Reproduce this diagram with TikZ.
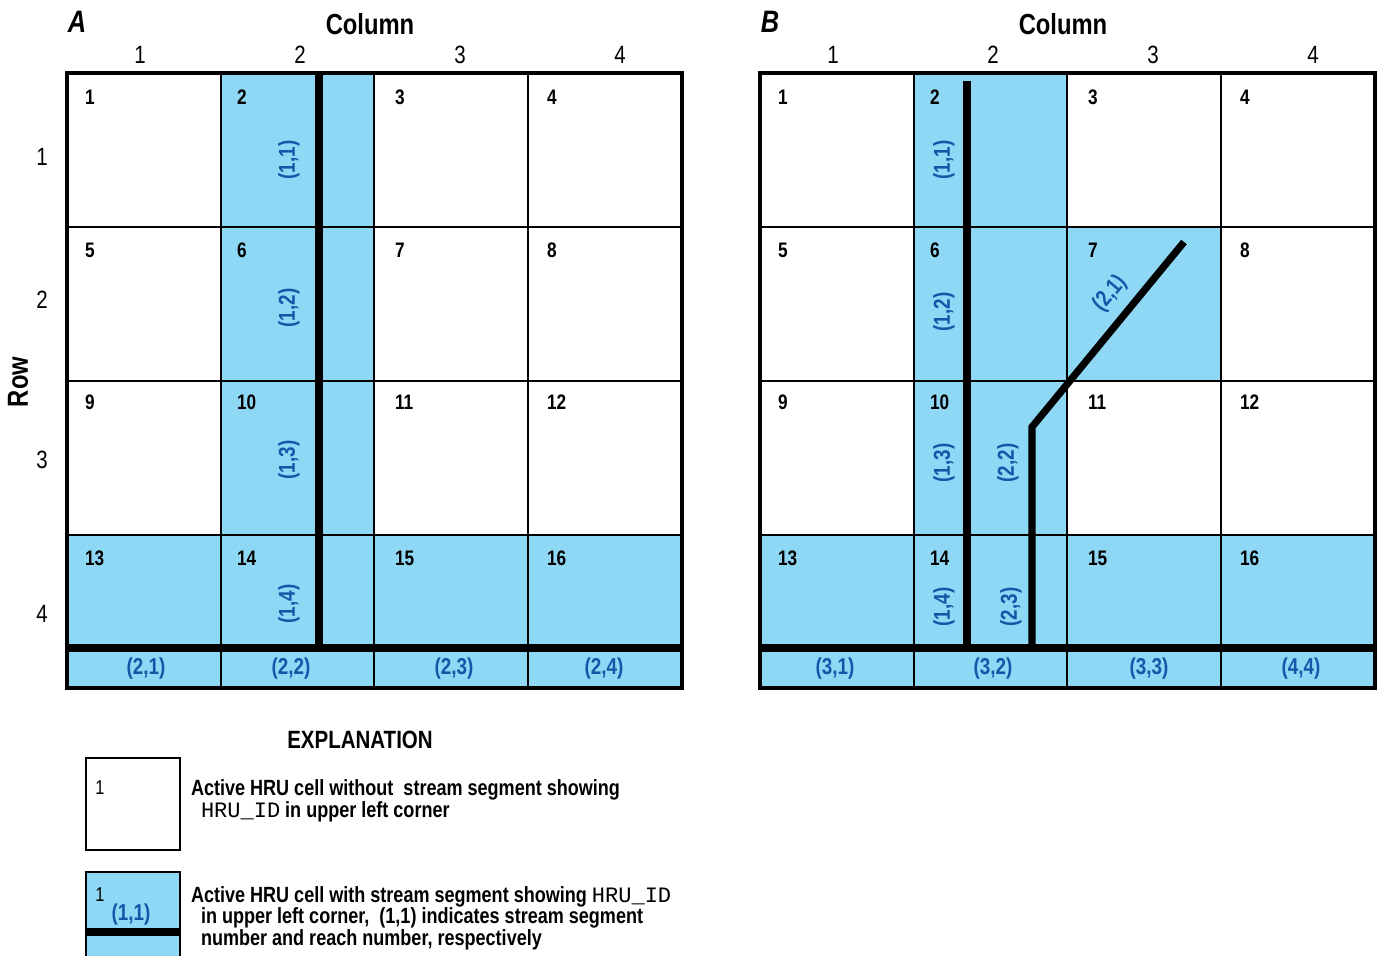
\documentclass[tikz,border=0pt]{standalone}
\usepackage{fontspec}
\setmainfont{Liberation Sans}[FakeStretch=0.82]
\setmonofont{Liberation Mono}
\usetikzlibrary{positioning}
\definecolor{cellblue}{RGB}{142,216,246}
\definecolor{reachblue}{RGB}{18,88,168}

\begin{document}
\begin{tikzpicture}[x=0.5pt, y=-0.5pt,
    every node/.style={inner sep=0pt, outer sep=0pt},
    thinline/.style={line width=1pt},
    outline/.style={line width=2.2pt},
    streamline/.style={line width=3.6pt},
    cellnum/.style={anchor=west, font=\fontsize{10.5}{12}\selectfont\bfseries},
    colnum/.style={font=\fontsize{12.5}{14}\selectfont},
    reach/.style={text=reachblue, font=\fontsize{11.5}{12}\selectfont\bfseries},
    headtxt/.style={font=\fontsize{14.5}{16}\selectfont\bfseries},
    legtxt/.style={anchor=base west, align=left, font=\fontsize{11}{10.75}\selectfont\bfseries},
    legnum/.style={font=\fontsize{10}{12}\selectfont}]
  \useasboundingbox (0,0) rectangle (1382,956);

  % cells with stream segments
  \fill[cellblue] (221,73) rectangle (374,688);
  \fill[cellblue] (67,535) rectangle (682,688);
  \fill[cellblue] (914,73) rectangle (1067,688);
  \fill[cellblue] (1067,227) rectangle (1221,381);
  \fill[cellblue] (760,535) rectangle (1375,688);

  % the two grids
  \foreach \p/\ox in {a/0, b/693} {
    \begin{scope}[shift={(\ox,0)}]
      \foreach \x in {221,374,528} \draw[thinline] (\x,73) -- (\x,688);
      \foreach \y in {227,381,535} \draw[thinline] (67,\y) -- (682,\y);
      \draw[outline] (67,73) rectangle (682,688);
      \draw[streamline] (67,648) -- (682,648);
      \foreach \c/\dx in {0/85, 1/237, 2/395, 3/547}
        \foreach \r/\y in {0/97, 1/250, 2/402, 3/558} {
          \pgfmathtruncatemacro\n{4*\r+\c+1}
          \node[cellnum] (\p-cell\n) at (\dx,\y) {\n};
        }
      \foreach \c in {1,...,4}
        \node[colnum] (\p-col\c) at ({140+160*(\c-1)},55) {\c};
      \node[headtxt] (\p-column) at (370,24) {Column};
    \end{scope}
  }
  \node[headtxt, font=\fontsize{15.5}{16}\selectfont\bfseries\itshape] (a-title) at (77,22) {A};
  \node[headtxt, font=\fontsize{15.5}{16}\selectfont\bfseries\itshape] (b-title) at (770,22) {B};

  % row numbers
  \foreach \r/\y in {1/157, 2/300, 3/460, 4/614}
    \node[colnum] (rownum\r) at (42,\y) {\r};
  \node[headtxt, rotate=90] (rowtitle) at (18,382) {Row};

  % streams, panel A
  \draw[streamline] (319,73) -- (319,648);
  \foreach \r/\y in {1/160, 2/308, 3/460, 4/604}
    \node[reach, rotate=90] (a-seg1\r) at (289,\y) {(1,\r)};
  \foreach \c/\x in {1/146, 2/291, 3/454, 4/604}
    \node[reach] (a-seg2\c) at (\x,669) {(2,\c)};

  % streams, panel B
  \draw[streamline] (967,81) -- (967,648);
  \draw[streamline] (1184,242) -- (1032,427) -- (1032,648);
  \foreach \r/\y in {1/160, 2/312, 3/463, 4/607}
    \node[reach, rotate=90] (b-seg1\r) at (944,\y) {(1,\r)};
  \node[reach, rotate=50] (b-seg21) at (1110,294) {(2,1)};
  \node[reach, rotate=90] (b-seg22) at (1008,463) {(2,2)};
  \node[reach, rotate=90] (b-seg23) at (1011,607) {(2,3)};
  \node[reach] (b-seg31) at (835,669) {(3,1)};
  \node[reach] (b-seg32) at (993,669) {(3,2)};
  \node[reach] (b-seg33) at (1149,669) {(3,3)};
  \node[reach] (b-seg44) at (1301,669) {(4,4)};

  % explanation
  \node[headtxt, font=\fontsize{12.5}{14}\selectfont\bfseries] (expl) at (360,740) {EXPLANATION};
  \draw[outline, line width=1.3pt] (86,758) rectangle (180,850);
  \node[legnum] (leg1-id) at (100,788) {1};
  \node[legtxt] (leg1-txt) at (191,817) {Active HRU cell without\ \ stream segment showing\\
    \hspace*{5pt}{\ttfamily\mdseries HRU\_ID} in upper left corner};

  \fill[cellblue] (86,872) rectangle (180,956);
  \draw[outline, line width=1.3pt] (86,956) -- (86,872) -- (180,872) -- (180,956);
  \draw[streamline] (86,932) -- (180,932);
  \node[legnum] (leg2-id) at (100,895) {1};
  \node[reach] (leg2-seg) at (131,915) {(1,1)};
  \node[legtxt] (leg2-txt) at (191,945) {Active HRU cell with stream segment showing {\ttfamily\mdseries HRU\_ID}\\
    \hspace*{5pt}in upper left corner,\ \ (1,1) indicates stream segment\\
    \hspace*{5pt}number and reach number, respectively};
\end{tikzpicture}
\end{document}
